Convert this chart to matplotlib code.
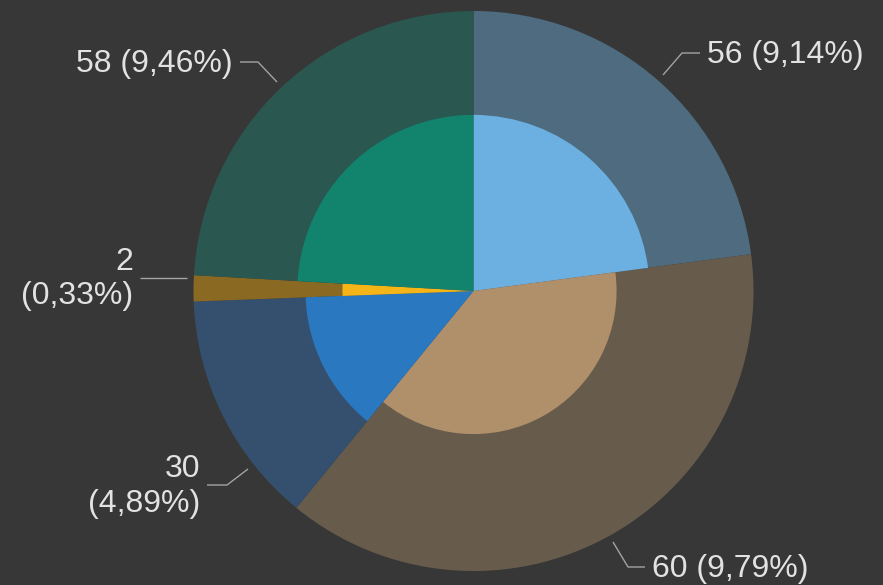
import matplotlib
matplotlib.use("Agg")
import matplotlib.pyplot as plt

# ---- data ----
counts = [56, 60, 30, 2, 58]
percent_labels = ["9,14%", "9,79%", "4,89%", "0,33%", "9,46%"]
# angular share of each slice (percent of full circle)
slice_share = [22.9, 38.0, 13.5, 1.5, 24.1]
# relative radius of the inner (highlight) wedge of each slice
inner_radius = [0.629, 0.511, 0.600, 0.468, 0.629]

outer_colors = ['#4e6b80', '#675b4c', '#34506e', '#8a6a22', '#2a574f']
inner_colors = ['#6cb0e2', '#b0906b', '#2a79c0', '#f5b417', '#12846e']
bg = '#373737'
text_color = '#e2e2e2'
line_color = '#a3a3a3'

W, H = 883, 585
R = 280.0
CX, CY = 473.5, 291.0


def px(x, y):
    return (x - CX) / R, (CY - y) / R


fig = plt.figure(figsize=(W / 100, H / 100), dpi=100, facecolor=bg)
ax = fig.add_axes([0, 0, 1, 1])
ax.set_facecolor(bg)
ax.axis('off')

ax.pie(slice_share, colors=outer_colors, startangle=90, counterclock=False,
       radius=1.0, wedgeprops=dict(linewidth=0))
inner_wedges, _ = ax.pie(slice_share, colors=inner_colors, startangle=90,
                         counterclock=False, radius=1.0,
                         wedgeprops=dict(linewidth=0))
for w, r in zip(inner_wedges, inner_radius):
    w.set_radius(r)

x0, y0 = px(0, H)
x1, y1 = px(W, 0)
ax.set_xlim(x0, x1)
ax.set_ylim(y0, y1)
ax.set_aspect('auto')

labels = [f"{c} ({p})" for c, p in zip(counts, percent_labels)]
fs = 23
fam = ['Liberation Sans', 'DejaVu Sans']

# label placement (pixel positions of anchor) and leader lines
label_layout = [
    # text, x, y(baseline), ha
    (labels[0], 707, 63, 'left'),
    (labels[1], 652, 577, 'left'),
]
for t, x, y, ha in label_layout:
    ax.text(*px(x, y), t, ha=ha, va='baseline', fontsize=fs, color=text_color,
            family=fam)

# two-line / right-aligned labels
ax.text(*px(233, 72), labels[4], ha='right', va='baseline', fontsize=fs,
        color=text_color, family=fam)
ax.text(*px(200, 477), f"{counts[2]}", ha='right', va='baseline', fontsize=fs,
        color=text_color, family=fam)
ax.text(*px(200, 512), f"({percent_labels[2]})", ha='right', va='baseline',
        fontsize=fs, color=text_color, family=fam)
ax.text(*px(133, 270), f"{counts[3]}", ha='right', va='baseline', fontsize=fs,
        color=text_color, family=fam)
ax.text(*px(133, 304), f"({percent_labels[3]})", ha='right', va='baseline',
        fontsize=fs, color=text_color, family=fam)

leaders = [
    [(663, 75), (682, 53), (700, 53)],
    [(613, 542), (628, 567), (645, 567)],
    [(207, 485), (227, 485), (248, 469)],
    [(140, 278), (187, 278)],
    [(240, 62), (258, 62), (277, 82)],
]
for pts in leaders:
    xs, ys = zip(*[px(a, b) for a, b in pts])
    ax.plot(xs, ys, color=line_color, lw=1.0, solid_capstyle='butt')

fig.savefig('out.png', dpi=100, facecolor=bg)
